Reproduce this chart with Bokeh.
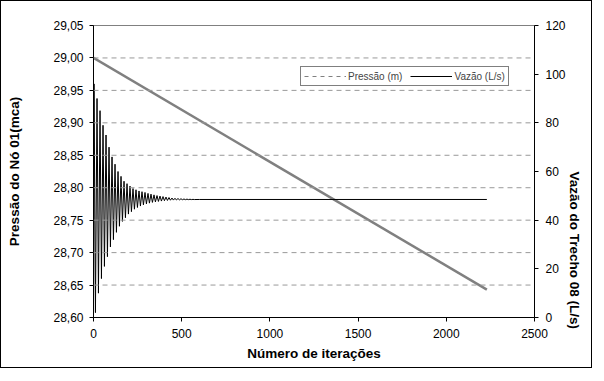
import math
from bokeh.plotting import figure
from bokeh.models import Range1d, LinearAxis, FixedTicker, Legend, LegendItem, Span
from bokeh.embed import file_html
from bokeh.resources import INLINE

# ---- data ----
pressure_iter = [0, 2230]
pressure_val = [29.00, 28.643]

flow_start_iter = [0]
flow_start_val = [1.0]
peak_iter = [3, 20, 37, 54, 71, 88, 105, 122, 139, 156, 173, 190, 207, 224, 241, 258, 275,
             292, 309, 326, 343, 360, 377, 394, 411, 428, 445, 462, 479, 496, 513, 530, 547, 564]
peak_val = [96, 90, 85, 79, 75, 70, 66, 63, 60, 58, 56, 55, 54, 53, 52.5, 52, 51.7,
            51.4, 51, 50.7, 50.4, 50.1, 49.9, 49.7, 49.5, 49.3, 49.1, 49.0, 48.9, 48.8, 48.7, 48.65, 48.6, 48.55]
trough_iter = [11, 28, 45, 62, 79, 96, 113, 130, 147, 164, 181, 198, 215, 232, 249, 266, 283,
               300, 317, 334, 351, 368, 385, 402, 419, 436, 453, 470, 487, 504, 521, 538, 555, 572]
trough_val = [2, 10, 16, 21, 25, 29, 32, 35, 37.5, 39.5, 41, 42.5, 43.5, 44.5, 45.2, 45.8, 46.3,
              46.7, 47.0, 47.3, 47.5, 47.7, 47.85, 48.0, 48.1, 48.2, 48.25, 48.3, 48.35, 48.4, 48.42, 48.44, 48.46, 48.48]
flow_end_iter = [600, 2230]
flow_end_val = [48.5, 48.5]

left_ticks = [28.60, 28.65, 28.70, 28.75, 28.80, 28.85, 28.90, 28.95, 29.00, 29.05]
left_labels = ["28,60", "28,65", "28,70", "28,75", "28,80", "28,85", "28,90", "28,95", "29,00", "29,05"]
right_ticks = [0, 20, 40, 60, 80, 100, 120]
x_ticks = [0, 500, 1000, 1500, 2000, 2500]

# build flow series
fx = list(flow_start_iter)
fy = list(flow_start_val)
for pi, pv, ti, tv in zip(peak_iter, peak_val, trough_iter, trough_val):
    fx += [pi, ti]
    fy += [pv, tv]
fx += flow_end_iter
fy += flow_end_val

FONT = "Liberation Sans"

p = figure(width=592, height=368, output_backend="svg", toolbar_location=None,
           x_range=Range1d(0, 2500), y_range=Range1d(28.60, 29.05),
           min_border_left=92, min_border_right=59, min_border_top=24, min_border_bottom=52)
p.styles = {"border": "1px solid black", "box-sizing": "border-box"}
p.extra_y_ranges = {"flow": Range1d(0, 120)}

p.outline_line_color = "#808080"
p.outline_line_width = 1
p.xgrid.visible = False
p.ygrid.visible = False

for t in left_ticks[1:-1]:
    p.add_layout(Span(location=t, dimension="width", line_color="#999999",
                      line_width=1, line_dash="5 4"))

ax = p.yaxis[0]
ax.ticker = FixedTicker(ticks=left_ticks)
ax.major_label_overrides = {t: l for t, l in zip(left_ticks, left_labels)}
ax.axis_label = "Pressão do Nó 01(mca)"

rax = LinearAxis(y_range_name="flow", ticker=FixedTicker(ticks=right_ticks),
                 axis_label="Vazão do Trecho 08 (L/s)")
p.add_layout(rax, "right")
try:
    rax.axis_label_orientation = -math.pi / 2
except Exception:
    pass

p.xaxis[0].ticker = FixedTicker(ticks=x_ticks)
p.xaxis[0].axis_label = "Número de iterações"

for a in [ax, rax, p.xaxis[0]]:
    a.axis_line_color = "black"
    a.axis_line_width = 1
    a.major_tick_line_color = "black"
    a.major_tick_out = 4
    a.major_tick_in = 0
    a.minor_tick_line_color = None
    a.major_label_text_font = FONT
    a.major_label_text_font_size = "12px"
    a.major_label_text_color = "black"
    a.axis_label_text_font = FONT
    a.axis_label_text_font_size = "13.5px"
    a.axis_label_text_font_style = "bold"
    a.axis_label_text_color = "black"
ax.major_label_standoff = 6
ax.axis_label_standoff = 28
rax.major_label_standoff = 7
rax.axis_label_standoff = 6
p.xaxis[0].major_label_standoff = 7
p.xaxis[0].axis_label_standoff = 5

# series
r_p = p.line(pressure_iter, pressure_val, line_color="#808080", line_width=2.5)
r_f = p.line(fx, fy, y_range_name="flow", line_color="black", line_width=1)

# legend proxies (outside visible range)
r_pl = p.line([-200, -100], [28.7, 28.7], line_color="#808080", line_width=1, line_dash="4 4")
r_fl = p.line([-200, -100], [50, 50], y_range_name="flow", line_color="black", line_width=1)

legend = Legend(items=[LegendItem(label="Pressão (m)", renderers=[r_pl]),
                       LegendItem(label="Vazão (L/s)", renderers=[r_fl])],
                location=(207, 231), orientation="horizontal",
                label_text_font=FONT, label_text_font_size="10px",
                glyph_width=42, glyph_height=10, label_standoff=2, spacing=8,
                padding=3, margin=0, border_line_color="black", border_line_width=1,
                label_height=12, background_fill_alpha=1)
p.add_layout(legend, "center")

open("out.html", "w").write(file_html(p, INLINE))
